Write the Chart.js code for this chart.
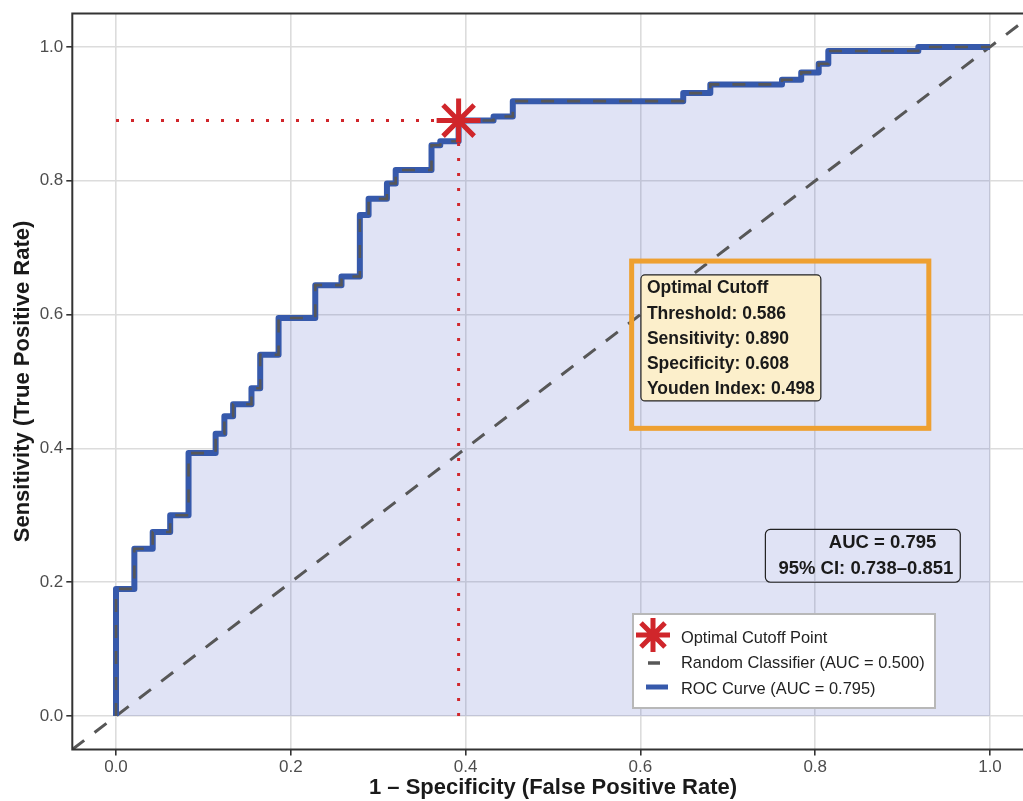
<!DOCTYPE html>
<html>
<head>
<meta charset="utf-8">
<script src="https://cdn.jsdelivr.net/npm/chart.js@4.4.1/dist/chart.umd.min.js"></script>
<style>
  html, body { margin: 0; padding: 0; background: #fff; overflow: hidden; }
  #wrap { width: 1040px; height: 801px; }
</style>
</head>
<body>
<div id="wrap"><canvas id="roc" width="1040" height="801"></canvas></div>
<script>
// ROC staircase corners (1 - specificity, sensitivity)
const fpr = [0, 0, 0.021, 0.042, 0.062, 0.083, 0.114, 0.124, 0.134, 0.155, 0.165, 0.186, 0.228, 0.258, 0.279, 0.289, 0.310, 0.320, 0.361, 0.371, 0.392, 0.432, 0.454, 0.649, 0.680, 0.762, 0.784, 0.804, 0.815, 0.918, 1.0];
const tpr = [0, 0.19, 0.25, 0.275, 0.30, 0.393, 0.422, 0.448, 0.466, 0.49, 0.54, 0.595, 0.644, 0.657, 0.749, 0.773, 0.796, 0.816, 0.853, 0.859, 0.89, 0.896, 0.919, 0.931, 0.944, 0.951, 0.962, 0.975, 0.994, 1.0, 1.0];

const cutFpr = 0.392;
const cutTpr = 0.890;

const tickValues = [0, 0.2, 0.4, 0.6, 0.8, 1.0];
const tickLabels = ['0.0', '0.2', '0.4', '0.6', '0.8', '1.0'];
const axisMin = -0.05, axisMax = 1.05;

const infoLines = ['Optimal Cutoff', 'Threshold: 0.586', 'Sensitivity: 0.890', 'Specificity: 0.608', 'Youden Index: 0.498'];
const aucLines = ['AUC = 0.795', '95% CI: 0.738\u20130.851'];
const legendLabels = ['Optimal Cutoff Point', 'Random Classifier (AUC = 0.500)', 'ROC Curve (AUC = 0.795)'];

// highlight rectangle, data units
const hiliteX = [0.59, 0.93];
const hiliteY = [0.43, 0.68];

const RED = '#d0262b';
const BLUE = '#3659ab';
const GREY = '#575757';
const FONT = "'Liberation Sans', Arial, sans-serif";

const rocPts = fpr.map((v, i) => ({ x: v, y: tpr[i] }));

function drawStar(ctx, cx, cy, r, w) {
    ctx.save();
    ctx.strokeStyle = RED;
    ctx.lineWidth = w;
    ctx.beginPath();
    for (let k = 0; k < 4; k++) {
        const a = k * Math.PI / 4;
        ctx.moveTo(cx - r * Math.cos(a), cy - r * Math.sin(a));
        ctx.lineTo(cx + r * Math.cos(a), cy + r * Math.sin(a));
    }
    ctx.stroke();
    ctx.restore();
}

function roundRect(ctx, x, y, w, h, r) {
    ctx.beginPath();
    ctx.moveTo(x + r, y);
    ctx.arcTo(x + w, y, x + w, y + h, r);
    ctx.arcTo(x + w, y + h, x, y + h, r);
    ctx.arcTo(x, y + h, x, y, r);
    ctx.arcTo(x, y, x + w, y, r);
    ctx.closePath();
}

// scales keep exactly the sizes given, no extra label padding
function fixPad(s) {
    s.paddingTop = 0; s.paddingBottom = 0; s.paddingLeft = 0; s.paddingRight = 0;
}

const overlay = {
    id: 'overlay',
    afterDatasetsDraw(chart) {
        const { ctx, chartArea: a, scales: { x, y } } = chart;
        ctx.save();

        // orange highlight
        ctx.strokeStyle = '#eea031';
        ctx.lineWidth = 5;
        const rx = x.getPixelForValue(hiliteX[0]), ry = y.getPixelForValue(hiliteY[1]);
        ctx.strokeRect(rx, ry, x.getPixelForValue(hiliteX[1]) - rx, y.getPixelForValue(hiliteY[0]) - ry);

        // info label
        ctx.font = 'bold 17.5px ' + FONT;
        const lh = 25.2;
        let tw = 0;
        infoLines.forEach(t => tw = Math.max(tw, ctx.measureText(t).width));
        const bx = x.getPixelForValue(0.6006), by = y.getPixelForValue(0.6593);
        roundRect(ctx, bx, by, tw + 12, lh * infoLines.length, 4);
        ctx.fillStyle = '#fcefcb';
        ctx.fill();
        ctx.strokeStyle = '#222';
        ctx.lineWidth = 1.2;
        ctx.stroke();
        ctx.fillStyle = '#1a1a1a';
        ctx.textBaseline = 'middle';
        ctx.textAlign = 'left';
        infoLines.forEach((t, i) => ctx.fillText(t, bx + 6, by + lh * i + lh / 2 + 1));

        // AUC label
        ctx.font = 'bold 18.5px ' + FONT;
        const ax0 = x.getPixelForValue(0.743), ax1 = x.getPixelForValue(0.966);
        const ay0 = y.getPixelForValue(0.279), ay1 = y.getPixelForValue(0.2);
        roundRect(ctx, ax0, ay0, ax1 - ax0, ay1 - ay0, 5);
        ctx.strokeStyle = '#222';
        ctx.lineWidth = 1.2;
        ctx.stroke();
        ctx.fillStyle = '#1a1a1a';
        ctx.textAlign = 'right';
        ctx.fillText(aucLines[0], ax1 - 24, ay0 + 14);
        ctx.fillText(aucLines[1], ax1 - 7, ay0 + 40);

        // legend
        const lx = 633, ly = 614, lw = 302, lhgt = 94;
        ctx.fillStyle = '#fff';
        ctx.fillRect(lx, ly, lw, lhgt);
        ctx.strokeStyle = '#b8b8b8';
        ctx.lineWidth = 2;
        ctx.strokeRect(lx, ly, lw, lhgt);
        drawStar(ctx, lx + 20, ly + 21, 17, 5);
        ctx.strokeStyle = GREY;
        ctx.lineWidth = 3.5;
        ctx.beginPath(); ctx.moveTo(lx + 15, ly + 49); ctx.lineTo(lx + 27, ly + 49); ctx.stroke();
        ctx.strokeStyle = BLUE;
        ctx.lineWidth = 5;
        ctx.beginPath(); ctx.moveTo(lx + 13, ly + 73); ctx.lineTo(lx + 35, ly + 73); ctx.stroke();
        ctx.font = '16.4px ' + FONT;
        ctx.fillStyle = '#222';
        ctx.textAlign = 'left';
        legendLabels.forEach((t, i) => ctx.fillText(t, lx + 48, ly + 24 + i * 25.5));

        // panel border
        ctx.strokeStyle = '#333';
        ctx.lineWidth = 2;
        ctx.strokeRect(a.left, a.top, a.right - a.left, a.bottom - a.top);
        ctx.restore();
    }
};

new Chart(document.getElementById('roc').getContext('2d'), {
    type: 'scatter',
    data: {
        datasets: [
            {
                label: 'Optimal Cutoff Point',
                data: [{ x: cutFpr, y: cutTpr }],
                pointStyle: 'star', pointRadius: 22, pointBorderWidth: 5,
                borderColor: RED, backgroundColor: RED, order: 0
            },
            {
                data: [{ x: 0, y: cutTpr }, { x: cutFpr, y: cutTpr }],
                showLine: true, borderColor: RED, borderWidth: 3, borderDash: [3, 12],
                pointRadius: 0, order: 1
            },
            {
                data: [{ x: cutFpr, y: 0 }, { x: cutFpr, y: cutTpr }],
                showLine: true, borderColor: RED, borderWidth: 3, borderDash: [3, 12],
                pointRadius: 0, order: 1
            },
            {
                data: rocPts, showLine: true, stepped: true,
                borderColor: GREY, borderWidth: 2.6, borderDash: [13, 13],
                pointRadius: 0, order: 2
            },
            {
                label: 'ROC Curve (AUC = 0.795)',
                data: rocPts, showLine: true, stepped: true,
                borderColor: BLUE, borderWidth: 6, borderJoinStyle: 'round',
                fill: 'origin', backgroundColor: 'rgba(62, 78, 190, 0.16)',
                pointRadius: 0, order: 3
            },
            {
                label: 'Random Classifier (AUC = 0.500)',
                data: [{ x: axisMin, y: axisMin }, { x: axisMax, y: axisMax }],
                showLine: true, borderColor: GREY, borderWidth: 3, borderDash: [15, 13],
                pointRadius: 0, order: 4
            }
        ]
    },
    options: {
        responsive: false,
        devicePixelRatio: 1,
        animation: false,
        events: [],
        layout: { autoPadding: false, padding: { top: 13.5, right: 6.3, left: 0, bottom: 0 } },
        plugins: {
            legend: { display: false },
            tooltip: { enabled: false },
            filler: { drawTime: 'beforeDatasetsDraw' }
        },
        scales: {
            x: {
                type: 'linear', min: axisMin, max: axisMax,
                afterBuildTicks: s => { s.ticks = tickValues.map(v => ({ value: v })); },
                afterFit: s => { s.height = 51.5; fixPad(s); },
                ticks: {
                    callback: (v) => tickLabels[tickValues.indexOf(v)] ?? '',
                    color: '#4d4d4d', font: { family: FONT, size: 17 }, padding: 2,
                    maxRotation: 0, autoSkip: false
                },
                grid: { color: '#dcdcdc', lineWidth: 1.6, tickColor: '#333', tickLength: 6 },
                border: { display: false },
                title: {
                    display: true, text: '1 \u2013 Specificity (False Positive Rate)',
                    color: '#1a1a1a', font: { family: FONT, size: 22, weight: 'bold' },
                    padding: { top: 0, bottom: 0 }
                }
            },
            y: {
                type: 'linear', min: axisMin, max: axisMax,
                afterBuildTicks: s => { s.ticks = tickValues.map(v => ({ value: v })); },
                afterFit: s => { s.width = 72.3; fixPad(s); },
                ticks: {
                    callback: (v) => tickLabels[tickValues.indexOf(v)] ?? '',
                    color: '#4d4d4d', font: { family: FONT, size: 17 }, padding: 3,
                    autoSkip: false
                },
                grid: { color: '#dcdcdc', lineWidth: 1.6, tickColor: '#333', tickLength: 6 },
                border: { display: false },
                title: {
                    display: true, text: 'Sensitivity (True Positive Rate)',
                    color: '#1a1a1a', font: { family: FONT, size: 22, weight: 'bold' },
                    padding: { top: 10, bottom: 0 }
                }
            }
        }
    },
    plugins: [overlay]
});
</script>
</body>
</html>
